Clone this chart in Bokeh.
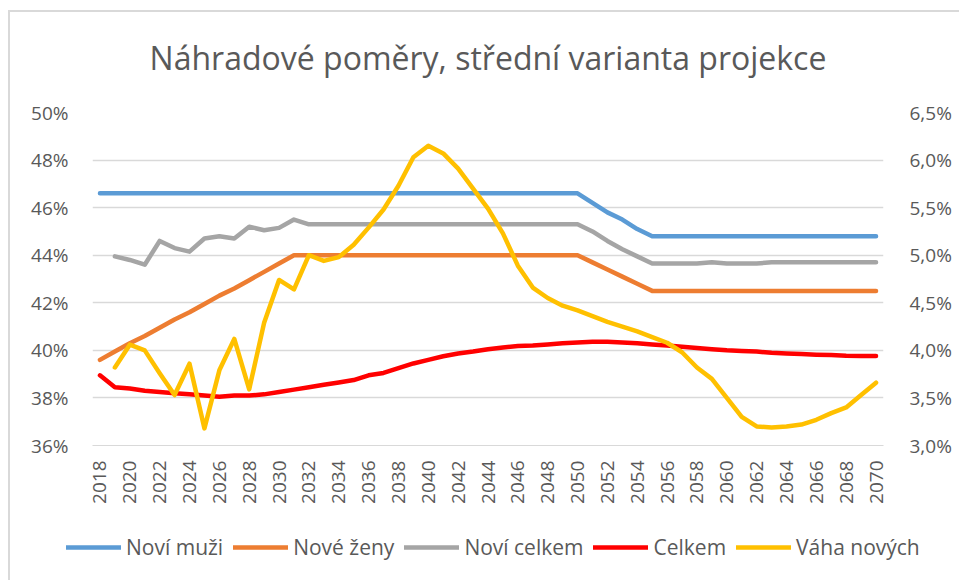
import math
from bokeh.plotting import figure
from bokeh.models import (Range1d, LinearAxis, FixedTicker, Legend, LegendItem,
                          ColumnDataSource)
from bokeh.embed import file_html
from bokeh.resources import INLINE

NAN = float("nan")

years = list(range(2018, 2071))
x_ticks = list(range(2018, 2071, 2))
left_ticks = [36, 38, 40, 42, 44, 46, 48, 50]
left_labels = ["36%", "38%", "40%", "42%", "44%", "46%", "48%", "50%"]
right_ticks = [3.0, 3.5, 4.0, 4.5, 5.0, 5.5, 6.0, 6.5]
right_labels = ["3,0%", "3,5%", "4,0%", "4,5%", "5,0%", "5,5%", "6,0%", "6,5%"]

series_names = ["Noví muži", "Nové ženy", "Noví celkem", "Celkem", "Váha nových"]

novi_muzi = [46.6, 46.6, 46.6, 46.6, 46.6, 46.6, 46.6, 46.6, 46.6, 46.6,
             46.6, 46.6, 46.6, 46.6, 46.6, 46.6, 46.6, 46.6, 46.6, 46.6,
             46.6, 46.6, 46.6, 46.6, 46.6, 46.6, 46.6, 46.6, 46.6, 46.6,
             46.6, 46.6, 46.6, 46.2, 45.8, 45.5, 45.1, 44.8, 44.8, 44.8,
             44.8, 44.8, 44.8, 44.8, 44.8, 44.8, 44.8, 44.8, 44.8, 44.8,
             44.8, 44.8, 44.8]

nove_zeny = [39.6, 39.95, 40.3, 40.6, 40.95, 41.3, 41.6, 41.95, 42.3, 42.6,
             42.95, 43.3, 43.65, 44.0, 44.0, 44.0, 44.0, 44.0, 44.0, 44.0,
             44.0, 44.0, 44.0, 44.0, 44.0, 44.0, 44.0, 44.0, 44.0, 44.0,
             44.0, 44.0, 44.0, 43.7, 43.4, 43.1, 42.8, 42.5, 42.5, 42.5,
             42.5, 42.5, 42.5, 42.5, 42.5, 42.5, 42.5, 42.5, 42.5, 42.5,
             42.5, 42.5, 42.5]

novi_celkem = [NAN, 43.95, 43.8, 43.6, 44.6, 44.3, 44.15, 44.7, 44.8, 44.7,
               45.2, 45.05, 45.15, 45.5, 45.3, 45.3, 45.3, 45.3, 45.3, 45.3,
               45.3, 45.3, 45.3, 45.3, 45.3, 45.3, 45.3, 45.3, 45.3, 45.3,
               45.3, 45.3, 45.3, 45.0, 44.6, 44.25, 43.95, 43.65, 43.65, 43.65,
               43.65, 43.7, 43.65, 43.65, 43.65, 43.7, 43.7, 43.7, 43.7, 43.7,
               43.7, 43.7, 43.7]

celkem = [38.95, 38.45, 38.4, 38.3, 38.25, 38.2, 38.15, 38.1, 38.05, 38.1,
          38.1, 38.15, 38.25, 38.35, 38.45, 38.55, 38.65, 38.75, 38.95, 39.05,
          39.25, 39.45, 39.6, 39.75, 39.87, 39.95, 40.05, 40.12, 40.18, 40.2,
          40.25, 40.3, 40.33, 40.36, 40.36, 40.33, 40.3, 40.25, 40.2, 40.15,
          40.1, 40.05, 40.0, 39.97, 39.95, 39.9, 39.87, 39.85, 39.82, 39.8,
          39.77, 39.76, 39.76]

vaha_novych = [NAN, 3.82, 4.06, 4.0, 3.76, 3.53, 3.86, 3.18, 3.79, 4.12,
               3.59, 4.29, 4.74, 4.64, 5.0, 4.94, 4.98, 5.11, 5.29, 5.48,
               5.73, 6.03, 6.15, 6.07, 5.91, 5.70, 5.49, 5.23, 4.89, 4.66,
               4.55, 4.47, 4.42, 4.36, 4.30, 4.25, 4.20, 4.14, 4.08, 3.98,
               3.82, 3.70, 3.50, 3.30, 3.20, 3.19, 3.20, 3.22, 3.27, 3.34,
               3.40, 3.53, 3.66]

colors = ["#5B9BD5", "#ED7D31", "#A5A5A5", "#FF0000", "#FFC000"]
TXT = "#595959"
FONT = "Open Sans"
TICK_FS = "19px"
LW = 4.5
EDGE = "#D9D9D9"
GRAD = "linear-gradient(%s, %s)" % (EDGE, EDGE)

p = figure(frame_width=791, frame_height=333, output_backend="svg",
           toolbar_location=None,
           x_range=Range1d(2017.5, 2070.5), y_range=Range1d(36, 50),
           min_border_left=92, min_border_right=76, min_border_top=112,
           min_border_bottom=80, background_fill_color="white",
           border_fill_color=None, outline_line_color=None)
# light chart-area border (top and left edges), painted behind the canvas
p.styles = {"background": GRAD + " 8px 10px / 951px 2px no-repeat, "
                          + GRAD + " 8px 10px / 2px 520px no-repeat, #FFFFFF"}
p.extra_y_ranges = {"right": Range1d(3.0, 6.5)}

p.title.text = "Náhradové poměry, střední varianta projekce"
p.title.align = "center"
p.title.text_font = FONT
p.title.text_font_size = "32px"
p.title.text_font_style = "normal"
p.title.text_color = TXT
p.title.standoff = 67

# axes
p.xaxis.ticker = FixedTicker(ticks=x_ticks)
p.xaxis.major_label_orientation = math.pi / 2
p.xaxis.axis_line_color = EDGE
p.xaxis.major_tick_line_color = None
p.xaxis.minor_tick_line_color = None
p.xaxis.major_label_text_font = FONT
p.xaxis.major_label_text_font_size = TICK_FS
p.xaxis.major_label_text_color = TXT
p.xaxis.major_label_standoff = 9

p.yaxis.ticker = FixedTicker(ticks=left_ticks)
p.yaxis.major_label_overrides = {t: l for t, l in zip(left_ticks, left_labels)}
p.yaxis.axis_line_color = None
p.yaxis.major_tick_line_color = None
p.yaxis.minor_tick_line_color = None
p.yaxis.major_label_text_font = FONT
p.yaxis.major_label_text_font_size = TICK_FS
p.yaxis.major_label_text_color = TXT
p.yaxis.major_label_standoff = 18

ra = LinearAxis(y_range_name="right", ticker=FixedTicker(ticks=right_ticks))
ra.major_label_overrides = {t: l for t, l in zip(right_ticks, right_labels)}
ra.axis_line_color = None
ra.major_tick_line_color = None
ra.minor_tick_line_color = None
ra.major_label_text_font = FONT
ra.major_label_text_font_size = TICK_FS
ra.major_label_text_color = TXT
ra.major_label_standoff = 20
p.add_layout(ra, "right")

p.xgrid.grid_line_color = None
p.ygrid.grid_line_color = EDGE
p.ygrid.grid_line_width = 1.3

data = [novi_muzi, nove_zeny, novi_celkem, celkem, vaha_novych]
for name, vals, col in zip(series_names, data, colors):
    src = ColumnDataSource(dict(x=years, y=vals))
    kw = {}
    if name == "Váha nových":
        kw["y_range_name"] = "right"
    p.line("x", "y", source=src, line_color=col, line_width=LW,
           line_join="round", line_cap="round", **kw)

# legend strip below the chart: same series, drawn outside its visible range,
# only their legend swatches show
lg = figure(width=959, height=55, output_backend="svg", toolbar_location=None,
            x_range=Range1d(0, 1), y_range=Range1d(0, 1),
            x_axis_location=None, y_axis_location=None,
            min_border_left=0, min_border_right=0, min_border_top=0,
            min_border_bottom=0, outline_line_color=None,
            background_fill_color=None, border_fill_color=None)
lg.styles = {"background": GRAD + " 8px 0px / 2px 55px no-repeat, #FFFFFF"}
lg.xgrid.visible = False
lg.ygrid.visible = False
items = []
for name, vals, col in zip(series_names, data, colors):
    r = lg.line(x=years, y=vals, line_color=col, line_width=LW,
                line_cap="round")
    items.append(LegendItem(label=name, renderers=[r]))
legend = Legend(items=items, orientation="horizontal", location=(66, 19),
                label_text_font=FONT, label_text_font_size="21px",
                label_text_color=TXT, glyph_width=55, glyph_height=24,
                label_height=24, label_standoff=5, spacing=10, padding=0,
                margin=0, border_line_color=None, background_fill_alpha=0)
lg.add_layout(legend, "center")

open("out.html", "w").write(file_html([p, lg], INLINE))
